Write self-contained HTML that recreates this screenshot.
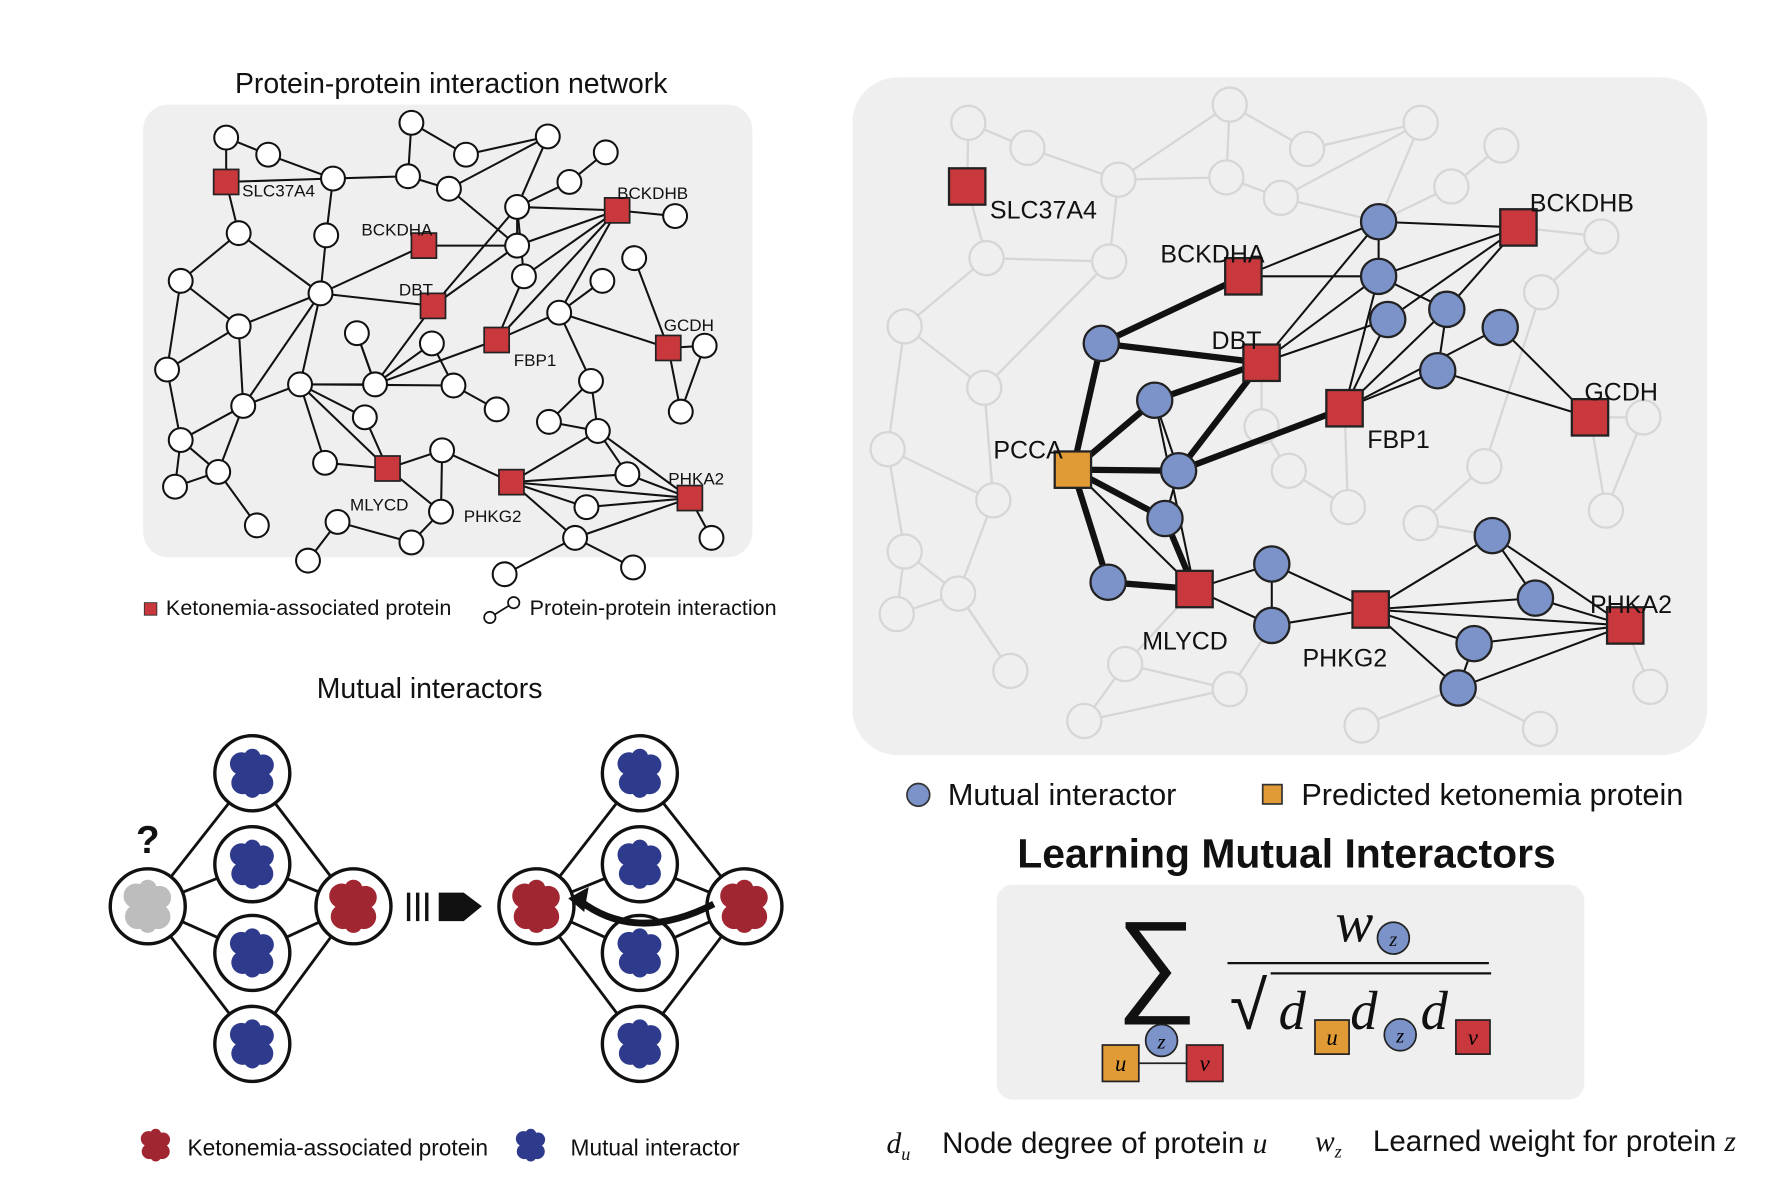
<!DOCTYPE html>
<html><head><meta charset="utf-8"><style>
html,body{margin:0;padding:0;background:#fff}
svg{display:block}
text{font-family:"Liberation Sans",sans-serif}
.serif{font-family:"Liberation Serif",serif;font-style:italic}
</style></head><body>
<svg id="fig" width="1773" height="1194" viewBox="0 0 1560 1050" preserveAspectRatio="none" xmlns="http://www.w3.org/2000/svg">
<rect width="1560" height="1050" fill="#fff"/>
<text x="397" y="82" font-size="25" text-anchor="middle" fill="#111">Protein-protein interaction network</text>
<rect x="126" y="92" width="536" height="398" rx="22" fill="#efefef"/>
<g id="leftEdges"></g>
<g id="leftNodes"></g>
<rect x="127" y="530" width="11" height="11" fill="#c8383c" stroke="#333" stroke-width="0.8"/>
<text x="146" y="541" font-size="19" fill="#111">Ketonemia-associated protein</text>
<g><line x1="431" y1="543" x2="452" y2="530" stroke="#111" stroke-width="1.5"/><circle cx="431" cy="543" r="5" fill="#fff" stroke="#111" stroke-width="1.5"/><circle cx="452" cy="530" r="5" fill="#fff" stroke="#111" stroke-width="1.5"/></g>
<text x="466" y="541" font-size="19" fill="#111">Protein-protein interaction</text>

<rect x="750" y="68" width="752" height="596" rx="40" fill="#efefef"/>
<g id="grayEdges"></g>
<g id="grayNodes"></g>
<g id="rightEdges"></g>
<g id="rightNodes"></g>

<circle cx="808" cy="699" r="10" fill="#7b93c9" stroke="#333" stroke-width="1.5"/>
<text x="834" y="708" font-size="27" fill="#111">Mutual interactor</text>
<rect x="1111" y="690" width="17" height="17" fill="#e09a36" stroke="#333" stroke-width="1.5"/>
<text x="1145" y="708" font-size="27" fill="#111">Predicted ketonemia protein</text>
<text x="1132" y="763" font-size="36" font-weight="bold" text-anchor="middle" fill="#111">Learning Mutual Interactors</text>

<rect x="877" y="778" width="517" height="189" rx="14" fill="#efefef"/>
<g>
<text x="982" y="880" font-size="100" font-family="Liberation Serif, serif" fill="#111">∑</text>
<line x1="1080" y1="847" x2="1310" y2="847" stroke="#111" stroke-width="2"/>
<text x="1175" y="828" font-size="50" class="serif" fill="#111">w</text>
<circle cx="1226" cy="825" r="14" fill="#7b93c9" stroke="#222" stroke-width="1.5"/><text x="1226" y="832" font-size="18" class="serif" text-anchor="middle" fill="#111">z</text>
<text x="1082" y="905" font-size="60" font-family="Liberation Serif, serif" fill="#111">√</text>
<line x1="1118" y1="856" x2="1312" y2="856" stroke="#111" stroke-width="2"/>
<text x="1125" y="905" font-size="48" class="serif" fill="#111">d</text>
<rect x="1157" y="897" width="30" height="30" fill="#e09a36" stroke="#222" stroke-width="1.5"/><text x="1172" y="919" font-size="20" class="serif" text-anchor="middle">u</text>
<text x="1188" y="905" font-size="48" class="serif" fill="#111">d</text>
<circle cx="1232" cy="910" r="14" fill="#7b93c9" stroke="#222" stroke-width="1.5"/><text x="1232" y="917" font-size="18" class="serif" text-anchor="middle">z</text>
<text x="1250" y="905" font-size="48" class="serif" fill="#111">d</text>
<rect x="1281" y="897" width="30" height="30" fill="#c8383c" stroke="#222" stroke-width="1.5"/><text x="1296" y="919" font-size="20" class="serif" text-anchor="middle">v</text>
<line x1="986" y1="935" x2="1060" y2="935" stroke="#222" stroke-width="1.5"/>
<rect x="970" y="919" width="32" height="32" fill="#e09a36" stroke="#222" stroke-width="1.5"/><text x="986" y="942" font-size="20" class="serif" text-anchor="middle">u</text>
<circle cx="1022" cy="915" r="14" fill="#7b93c9" stroke="#222" stroke-width="1.5"/><text x="1022" y="922" font-size="18" class="serif" text-anchor="middle">z</text>
<rect x="1044" y="919" width="32" height="32" fill="#c8383c" stroke="#222" stroke-width="1.5"/><text x="1060" y="942" font-size="20" class="serif" text-anchor="middle">v</text>
</g>
<text x="780" y="1014" font-size="26" class="serif" fill="#111">d<tspan font-size="16" dy="6">u</tspan></text>
<text x="829" y="1014" font-size="26" fill="#111">Node degree of protein <tspan font-family="Liberation Serif, serif" font-style="italic">u</tspan></text>
<text x="1157" y="1012" font-size="26" class="serif" fill="#111">w<tspan font-size="16" dy="6">z</tspan></text>
<text x="1208" y="1012" font-size="26" fill="#111">Learned weight for protein <tspan font-family="Liberation Serif, serif" font-style="italic">z</tspan></text>

<text x="378" y="614" font-size="25" text-anchor="middle" fill="#111">Mutual interactors</text>
<g id="diagram"></g>
<text x="130" y="750" font-size="34" font-weight="bold" text-anchor="middle" fill="#111">?</text>
<g>
<rect x="358" y="785" width="3" height="25" fill="#111"/><rect x="366" y="785" width="3" height="25" fill="#111"/><rect x="374" y="785" width="3" height="25" fill="#111"/>
<polygon points="386,785 408,785 424,797 408,810 386,810" fill="#111"/>
</g>
<path d="M628,795 Q560,830 510,792" fill="none" stroke="#111" stroke-width="6"/>
<polygon points="500,790 518,780 514,802" fill="#111"/>
<g id="legendBlobs"></g>
<text x="165" y="1016" font-size="20" fill="#111">Ketonemia-associated protein</text>
<text x="502" y="1016" font-size="20" fill="#111">Mutual interactor</text>
</svg>
<script>
const NS="http://www.w3.org/2000/svg";
const leftCircles=[["n1",199,121],["n2",236,136],["n3",293,157],["n4",362,108],["n5",410,136],["n6",482,120],["n7",359,155],["n8",395,166],["n9",533,134],["n10",501,160],["n11",455,182],["n12",594,190],["n13",210,205],["n14",287,207],["n15",455,216],["n16",558,227],["n17",159,247],["n18",282,258],["n19",461,243],["n20",530,247],["n21",492,275],["n22",210,287],["n23",314,293],["n24",380,302],["n25",620,304],["n26",147,325],["n27",264,338],["n28",330,338],["n29",399,339],["n30",520,335],["n31",214,357],["n32",321,367],["n33",437,360],["n34",599,362],["n35",483,371],["n36",526,379],["n37",159,387],["n38",389,396],["n39",192,415],["n40",154,428],["n41",286,407],["n42",552,417],["n43",388,450],["n44",516,446],["n45",226,462],["n46",297,459],["n47",626,473],["n48",362,477],["n49",506,473],["n50",271,493],["n51",444,505],["n52",557,499]];
const leftSquares=[["SLC37A4",199,160,14,8],["BCKDHA",373,216,-55,-14],["DBT",381,269,-30,-14],["FBP1",437,299,15,18],["BCKDHB",543,185,0,-15],["GCDH",588,306,-4,-20],["MLYCD",341,412,-33,32],["PHKG2",450,424,-42,30],["PHKA2",607,438,-19,-17]];
const leftEdges=[["n1","n2"],["n1","SLC37A4"],["n2","n3"],["SLC37A4","n3"],["SLC37A4","n13"],["n3","n7"],["n4","n7"],["n4","n5"],["n5","n6"],["n6","n8"],["n8","n7"],["n6","n11"],["n9","n10"],["n10","n11"],["n11","BCKDHB"],["BCKDHB","n12"],["n11","n15"],["BCKDHA","n15"],["n13","n17"],["n13","n18"],["n3","n14"],["n18","DBT"],["n18","BCKDHA"],["n17","n22"],["n17","n26"],["n22","n18"],["n22","n31"],["n26","n37"],["n31","n27"],["n31","n37"],["n18","n27"],["n18","n31"],["n27","n28"],["n27","n32"],["n27","n41"],["n27","MLYCD"],["n27","n29"],["n28","DBT"],["n28","n23"],["n28","FBP1"],["n29","n24"],["n29","n33"],["n11","DBT"],["n15","DBT"],["n19","FBP1"],["n19","BCKDHB"],["n21","BCKDHB"],["FBP1","BCKDHB"],["n15","BCKDHB"],["n20","n21"],["n21","GCDH"],["n16","GCDH"],["GCDH","n25"],["GCDH","n34"],["n25","n34"],["n21","n30"],["n30","n35"],["n30","n36"],["n35","n36"],["n36","n42"],["n36","PHKG2"],["n38","PHKG2"],["n38","MLYCD"],["n38","n43"],["n41","MLYCD"],["MLYCD","n43"],["PHKG2","n42"],["PHKG2","PHKA2"],["PHKG2","n44"],["PHKG2","n49"],["n42","PHKA2"],["n44","PHKA2"],["n49","PHKA2"],["n36","PHKA2"],["PHKA2","n47"],["n49","n51"],["n49","n52"],["n37","n40"],["n37","n39"],["n39","n40"],["n39","n45"],["n31","n39"],["n43","n48"],["n46","n48"],["n46","n50"],["n32","MLYCD"],["n28","n24"],["n14","n18"],["n8","n15"],["n19","n11"],["FBP1","n21"],["n22","n26"],["n23","n28"]];

const grayNodes=[["g1",852,108],["g2",904,130],["g3",984,158],["g4",1082,92],["g5",1150,131],["g6",1250,108],["g7",1321,128],["g8",1079,156],["g9",1127,174],["g10",1277,164],["g11",868,227],["g12",976,230],["g13",1409,208],["g14",1356,257],["g15",796,287],["g16",866,341],["g17",1110,375],["g18",781,395],["g19",874,440],["g20",1134,414],["g21",1306,410],["g22",1186,446],["g23",1250,460],["g24",1446,367],["g25",1413,449],["g26",796,485],["g27",843,522],["g28",789,540],["g29",889,590],["g30",990,584],["g31",1082,606],["g32",954,634],["g33",1198,638],["g34",1355,641],["g35",1452,604]];
const grayEdges=[["g1","g2"],["g1","SLC"],["g2","g3"],["g3","g8"],["g4","g8"],["g4","g5"],["g5","g6"],["g6","g9"],["g9","g8"],["g7","g10"],["g11","g15"],["g11","g12"],["g11","SLC"],["g12","g3"],["g15","g16"],["g15","g18"],["g16","g19"],["g16","g12"],["g18","g19"],["g18","g26"],["g19","g27"],["g19","g16"],["g26","g28"],["g26","g27"],["g27","g29"],["g28","g27"],["g17","g20"],["g20","g22"],["g21","g23"],["g21","g14"],["g14","g13"],["g13","BCKDHB"],["g24","g25"],["g24","GCDH"],["g25","GCDH"],["g30","g31"],["g30","g32"],["g32","g31"],["g31","b13"],["g33","b17"],["g34","b17"],["g35","PHKA2"],["g23","b14"],["g10","b1"],["g6","b1"],["g17","DBT"],["g30","MLYCD"],["g29","g27"],["g12","g11"],["g22","FBP1"],["g9","b1"],["g3","g4"]];
const rightSquares=[["SLC",851,164,"SLC37A4",20,20,"#c8383c"],["BCKDHB",1336,200,"BCKDHB",10,-22,"#c8383c"],["BCKDHA",1094,243,"BCKDHA",-73,-20,"#c8383c"],["DBT",1110,319,"DBT",-44,-20,"#c8383c"],["FBP1",1183,359,"FBP1",20,27,"#c8383c"],["GCDH",1399,367,"GCDH",-5,-23,"#c8383c"],["PCCA",944,413,"PCCA",-70,-18,"#e09a36"],["MLYCD",1051,518,"MLYCD",-46,45,"#c8383c"],["PHKG2",1206,536,"PHKG2",-60,42,"#c8383c"],["PHKA2",1430,550,"PHKA2",-31,-19,"#c8383c"]];
const blueNodes=[["b1",1213,195],["b2",1213,243],["b3",1221,281],["b4",1273,272],["b5",1320,288],["b6",1265,326],["b7",969,302],["b8",1016,352],["b9",1037,414],["b10",1025,456],["b11",975,512],["b12",1119,496],["b13",1119,550],["b14",1313,471],["b15",1351,526],["b16",1297,566],["b17",1283,605]];
const thickEdges=[["PCCA","b7"],["b7","BCKDHA"],["b7","DBT"],["PCCA","b8"],["b8","DBT"],["PCCA","b9"],["b9","DBT"],["b9","FBP1"],["PCCA","b10"],["b10","MLYCD"],["PCCA","b11"],["b11","MLYCD"]];
const thinEdges=[["BCKDHA","b1"],["BCKDHA","b2"],["b1","BCKDHB"],["b2","BCKDHB"],["b3","BCKDHB"],["b4","BCKDHB"],["DBT","b1"],["DBT","b2"],["DBT","b3"],["FBP1","b2"],["FBP1","b3"],["FBP1","b4"],["FBP1","b6"],["FBP1","b5"],["b2","b4"],["b4","b6"],["b6","GCDH"],["b5","GCDH"],["PCCA","MLYCD"],["b8","b9"],["b8","MLYCD"],["b9","b10"],["MLYCD","b12"],["MLYCD","b13"],["b12","b13"],["b12","PHKG2"],["b13","PHKG2"],["PHKG2","b14"],["PHKG2","b15"],["PHKG2","b16"],["PHKG2","b17"],["PHKG2","PHKA2"],["b14","b15"],["b14","PHKA2"],["b15","PHKA2"],["b16","PHKA2"],["b17","PHKA2"],["b16","b17"],["b1","b2"]];

const columnY=[680,760,838,918];

function el(tag,attrs,parent){const e=document.createElementNS(NS,tag);for(const k in attrs)e.setAttribute(k,attrs[k]);parent.appendChild(e);return e;}
function pos(list){const m={};list.forEach(n=>m[n[0]]=[n[1],n[2]]);return m;}

const LP=Object.assign(pos(leftCircles),pos(leftSquares));
const gLE=document.getElementById('leftEdges'),gLN=document.getElementById('leftNodes');
leftEdges.forEach(([a,b])=>{const l=el('line',{x1:LP[a][0],y1:LP[a][1],x2:LP[b][0],y2:LP[b][1],stroke:'#111','stroke-width':1.8},gLE);

});
leftCircles.forEach(([id,x,y])=>{const c=el('circle',{cx:x,cy:y,r:10.5,fill:'#fff',stroke:'#111','stroke-width':1.8},gLN);

});
leftSquares.forEach(([id,x,y,dx,dy])=>{const r=el('rect',{x:x-11,y:y-11,width:22,height:22,fill:'#c8383c',stroke:'#222','stroke-width':1.5},gLN);


const t=el('text',{x:x+dx,y:y+dy+5,'font-size':15,fill:'#111'},gLN);t.textContent=id;

});

const RP=Object.assign(pos(grayNodes),pos(rightSquares),pos(blueNodes));
const gGE=document.getElementById('grayEdges'),gGN=document.getElementById('grayNodes');
grayEdges.forEach(([a,b])=>{const l=el('line',{x1:RP[a][0],y1:RP[a][1],x2:RP[b][0],y2:RP[b][1],stroke:'#d6d6d6','stroke-width':2},gGE);

});
grayNodes.forEach(([id,x,y])=>{const c=el('circle',{cx:x,cy:y,r:15,fill:'#efefef',stroke:'#d6d6d6','stroke-width':2},gGN);

});
const gRE=document.getElementById('rightEdges'),gRN=document.getElementById('rightNodes');
thinEdges.forEach(([a,b])=>{const l=el('line',{x1:RP[a][0],y1:RP[a][1],x2:RP[b][0],y2:RP[b][1],stroke:'#111','stroke-width':1.8},gRE);

});
thickEdges.forEach(([a,b])=>{const l=el('line',{x1:RP[a][0],y1:RP[a][1],x2:RP[b][0],y2:RP[b][1],stroke:'#111','stroke-width':5.5},gRE);

});
blueNodes.forEach(([id,x,y])=>{const c=el('circle',{cx:x,cy:y,r:15.5,fill:'#7b93c9',stroke:'#222','stroke-width':2},gRN);

});
rightSquares.forEach(([id,x,y,lab,dx,dy,col])=>{const r=el('rect',{x:x-16,y:y-16,width:32,height:32,fill:col,stroke:'#222','stroke-width':2},gRN);


const t=el('text',{x:x+dx,y:y+dy+8,'font-size':22,fill:'#111'},gRN);t.textContent=lab;

});

function blob(parent,cx,cy,s,col){const g=el('g',{},parent);
const pts=[[0,0,1],[-0.4,-0.35,0.7],[0.4,-0.3,0.65],[0.35,0.35,0.7],[-0.35,0.35,0.7],[0,-0.6,0.5],[0,0.6,0.5]];
pts.forEach(p=>el('circle',{cx:cx+p[0]*s,cy:cy+p[1]*s,r:p[2]*s*0.6,fill:col},g));return g;}
const gD=document.getElementById('diagram');
function diamond(lx,rx,mx,leftCol,rightCol){
columnY.forEach(y=>{el('line',{x1:lx,y1:797,x2:mx,y2:y,stroke:'#111','stroke-width':2.5},gD);el('line',{x1:rx,y1:797,x2:mx,y2:y,stroke:'#111','stroke-width':2.5},gD);});
[[lx,797,leftCol],[rx,797,rightCol]].forEach(([x,y,c])=>{const ci=el('circle',{cx:x,cy:y,r:33,fill:'#fff',stroke:'#111','stroke-width':3},gD);


blob(gD,x,y,26,c);});
columnY.forEach(y=>{const ci=el('circle',{cx:mx,cy:y,r:33,fill:'#fff',stroke:'#111','stroke-width':3},gD);


blob(gD,mx,y,24,'#2e3a8c');});}
diamond(130,311,222,'#bdbdbd','#a02632');
diamond(472,655,563,'#a02632','#a02632');
const lb=document.getElementById('legendBlobs');
blob(lb,137,1007,16,'#a02632');blob(lb,467,1007,16,'#2e3a8c');
</script>
</body></html>
